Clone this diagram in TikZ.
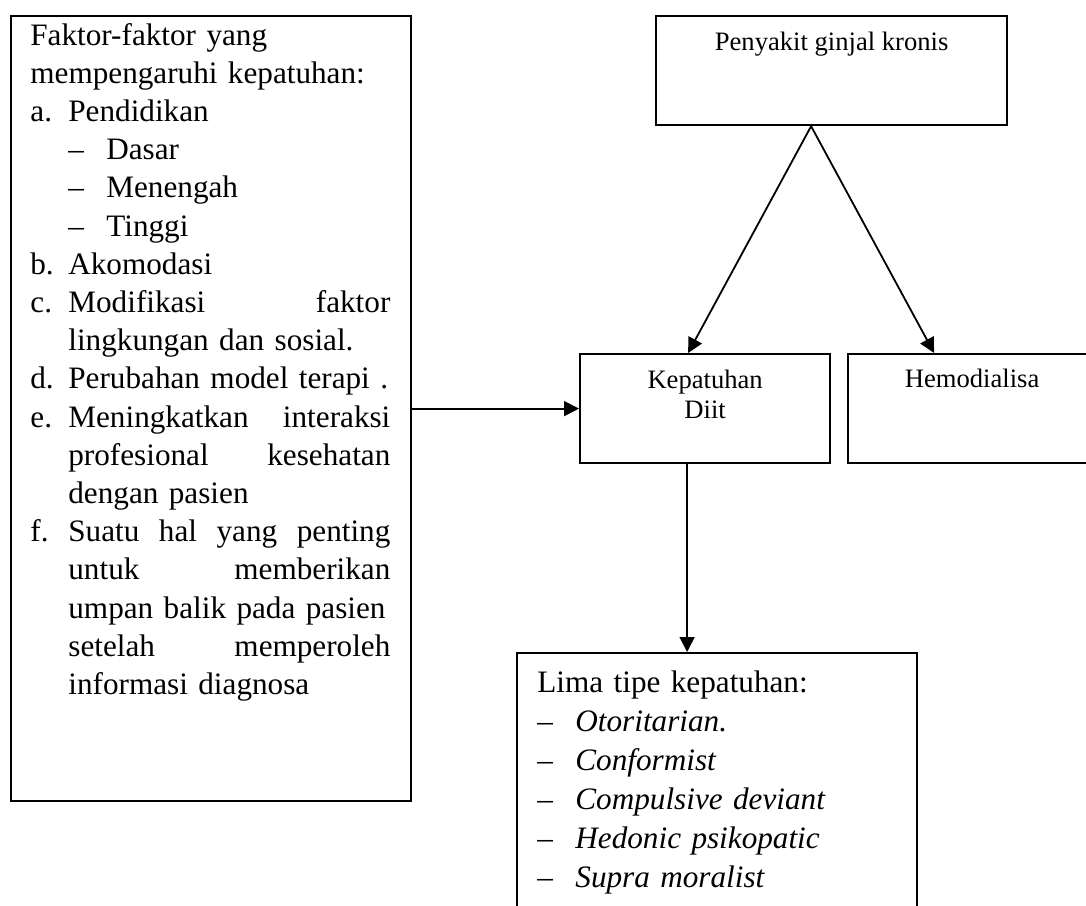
\documentclass[tikz,border=0pt]{standalone}
\usepackage{fontspec}
\setmainfont{Liberation Serif}
\usetikzlibrary{positioning,arrows.meta}
\newcommand{\lbl}[2]{\makebox[19pt][l]{#1}#2}
\newcommand{\jst}[2]{\hbox to 161pt{#1\hfill#2}}

\begin{document}
\begin{tikzpicture}[x=0.5pt,y=-0.5pt,
    frame/.style={draw,line width=1.1pt,inner sep=0pt,anchor=north west},
    big/.style={font=\fontsize{15.6}{19.1}\selectfont,inner sep=0pt},
    small/.style={font=\fontsize{13.3}{15}\selectfont,inner sep=0pt,anchor=base},
    arr/.style={line width=0.9pt,-{Triangle[length=7.5pt,width=7.5pt]}}]
  \clip (0,0) rectangle (1086,905);
  % boxes
  \node[frame,minimum width=200pt,minimum height=392.5pt] (faktor) at (10,15) {};
  \node[frame,minimum width=175.5pt,minimum height=54.5pt] (sakit) at (655,15) {};
  \node[frame,minimum width=125pt,minimum height=54.5pt] (patuh) at (579,353) {};
  \node[frame,minimum width=124pt,minimum height=54.5pt] (hd) at (847,353) {};
  \node[frame,minimum width=200pt,minimum height=140pt] (tipe) at (516,652) {};
  % texts
  \node[small] (sakittxt) at ([yshift=-17.5pt]sakit.north) {Penyakit ginjal kronis};
  \node[small,align=center,text width=120pt] (patuhtxt) at ([yshift=-17.5pt]patuh.north) {Kepatuhan\\Diit};
  \node[small] (hdtxt) at ([yshift=-17pt]hd.north) {Hemodialisa};
  \node[big,anchor=base west,text width=182pt] (faktortxt) at ([shift={(10pt,-15pt)}]faktor.north west) {%
    Faktor-faktor yang\\
    mempengaruhi kepatuhan:\\
    \lbl{a.}{Pendidikan}\\
    \hspace*{19pt}\lbl{--}{Dasar}\\
    \hspace*{19pt}\lbl{--}{Menengah}\\
    \hspace*{19pt}\lbl{--}{Tinggi}\\
    \lbl{b.}{Akomodasi}\\
    \lbl{c.}{\jst{Modifikasi}{faktor}}\\
    \hspace*{19pt}lingkungan dan sosial.\\
    \lbl{d.}{\mbox{Perubahan model terapi .}}\\
    \lbl{e.}{\jst{Meningkatkan}{interaksi}}\\
    \hspace*{19pt}\jst{profesional}{kesehatan}\\
    \hspace*{19pt}dengan pasien\\
    \lbl{f.}{\hbox to 161pt{Suatu\hfill hal\hfill yang\hfill penting}}\\
    \hspace*{19pt}\jst{untuk}{memberikan}\\
    \hspace*{19pt}\mbox{umpan balik pada pasien}\\
    \hspace*{19pt}\jst{setelah}{memperoleh}\\
    \hspace*{19pt}informasi diagnosa};
  \node[big,font=\fontsize{15.6}{19.5}\selectfont,anchor=base west,text width=180pt] (tipetxt) at ([shift={(10.5pt,-20pt)}]tipe.north west) {%
    Lima tipe kepatuhan:\\
    \lbl{--}{\textit{Otoritarian.}}\\
    \lbl{--}{\textit{Conformist}}\\
    \lbl{--}{\textit{Compulsive deviant}}\\
    \lbl{--}{\textit{Hedonic psikopatic}}\\
    \lbl{--}{\textit{Supra moralist}}};
  % connectors
  \draw[arr] ([xshift=-10.25pt]sakit.south) -- ([xshift=-8.5pt]patuh.north);
  \draw[arr] ([xshift=-10.25pt]sakit.south) -- ([xshift=-19pt]hd.north);
  \draw[arr] (faktor.east |- patuh.west) -- (patuh.west);
  \draw[arr] ([xshift=-9pt]patuh.south) -- ([xshift=-9pt]patuh.south |- tipe.north);
\end{tikzpicture}
\end{document}
